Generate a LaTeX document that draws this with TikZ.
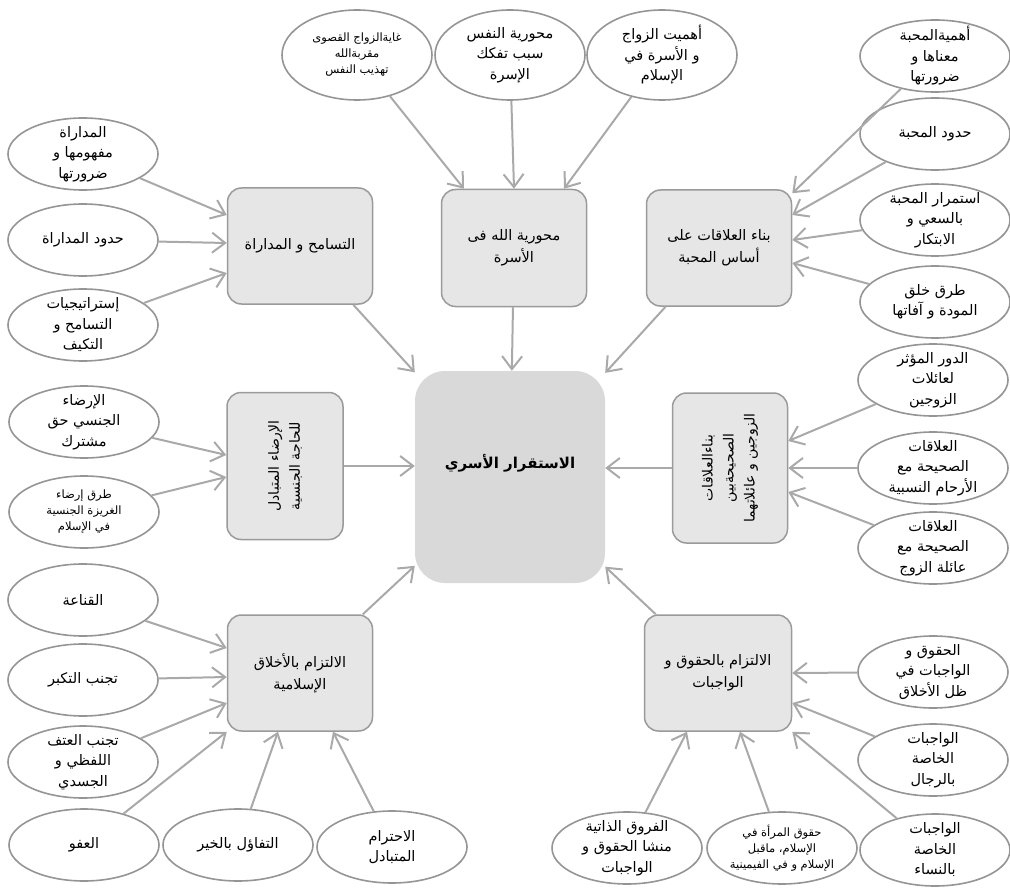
\documentclass[tikz,border=0pt]{standalone}
\usepackage{fontspec}
\newfontfamily\arabicfont[Script=Arabic]{DejaVu Sans}
\TeXXeTstate=1
\usetikzlibrary{shapes.geometric,arrows.meta}
\definecolor{ellc}{HTML}{959595}
\definecolor{boxc}{HTML}{9A9A9A}
\definecolor{boxf}{HTML}{E6E6E6}
\definecolor{cenf}{HTML}{D9D9D9}
\definecolor{arrc}{HTML}{A9A9A9}
\tikzset{
  ell/.style={ellipse, draw=ellc, line width=1.6pt, fill=white, minimum width=150pt, minimum height=72pt, inner sep=0pt},
  tall/.style={minimum height=90pt},
  lbl/.style={font=\arabicfont\fontsize{14.5}{20.5}\selectfont, align=center, inner sep=0pt},
  lbls/.style={font=\arabicfont\fontsize{11.5}{16}\selectfont, align=center, inner sep=0pt},
  box/.style={draw=boxc, line width=1.5pt, fill=boxf, rounded corners=14pt, minimum width=145pt, minimum height=116pt, align=center, inner sep=2pt, font=\arabicfont\fontsize{14.5}{22}\selectfont},
  rot/.style={rotate=90, align=center, inner sep=0pt, font=\arabicfont\fontsize{14}{21}\selectfont},
  cen/.style={fill=cenf, rounded corners=30pt, minimum width=190pt, minimum height=212pt, inner sep=0pt},
  centxt/.style={inner sep=0pt, font=\arabicfont\bfseries\fontsize{15}{18}\selectfont},
  arr/.style={draw=arrc, line width=2pt, -{Straight Barb[length=13pt,width=20pt]}}
}
\begin{document}
\begin{tikzpicture}[x=1pt,y=-1pt]
\useasboundingbox (0,0) rectangle (1010,888);
% central box
\node[cen] (C) at (510,477) {};
\node[centxt] (Ct) at (510,463) {\beginR الاستقرار الأسري\endR};
% category boxes
\node[box] (Btl) at (300,246) {\beginR التسامح و المداراة\endR};
\node[box, minimum height=117pt] (Btm) at (514,248) {\beginR محورية الله فى\endR\\\beginR الأسرة\endR};
\node[box] (Btr) at (719,248) {\beginR بناء العلاقات على\endR\\\beginR أساس المحبة\endR};
\node[box, minimum width=116pt, minimum height=147pt] (Blm) at (285,466) {};
\node[rot] (Blmt) at (Blm) {\beginR الإرضاء المتبادل\endR\\\beginR للحاجة الجنسية\endR};
\node[box, minimum width=115pt, minimum height=150pt] (Brm) at (730,468) {};
\node[rot] (Brmt) at (Brm) {\beginR بناءالعلاقات\endR\\\beginR الصحيحةبين\endR\\\beginR الزوجين و عائلاتهما\endR};
\node[box] (Bbl) at (300,673) {\beginR الالتزام بالأخلاق\endR\\\beginR الإسلامية\endR};
\node[box, minimum width=147pt] (Bbr) at (718,673) {\beginR الالتزام بالحقوق و\endR\\\beginR الواجبات\endR};
% top ellipses
\node[ell, tall, label={[lbls]center:{\beginR غايةالزواج القصوى\endR\\\beginR مقربةالله\endR\\\beginR تهذيب النفس\endR}}] (t1) at (357,55) {};
\node[ell, tall, label={[lbl]center:{\beginR محورية النفس\endR\\\beginR سبب تفكك\endR\\\beginR الإسرة\endR}}] (t2) at (510,55) {};
\node[ell, tall, label={[lbl]center:{\beginR أهميت الزواج\endR\\\beginR و الأسرة في\endR\\\beginR الإسلام\endR}}] (t3) at (662,55) {};
% right column
\node[ell, label={[lbl]center:{\beginR أهميةالمحبة\endR\\\beginR معناها و\endR\\\beginR ضرورتها\endR}}] (r1) at (935,56) {};
\node[ell, label={[lbl]center:{\beginR حدود المحبة\endR}}] (r2) at (935,134) {};
\node[ell, label={[lbl]center:{\beginR استمرار المحبة\endR\\\beginR بالسعي و\endR\\\beginR الابتكار\endR}}] (r3) at (935,220) {};
\node[ell, label={[lbl]center:{\beginR طرق خلق\endR\\\beginR المودة و آفاتها\endR}}] (r4) at (935,302) {};
\node[ell, label={[lbl]center:{\beginR الدور المؤثر\endR\\\beginR لعائلات\endR\\\beginR الزوجين\endR}}] (r5) at (933,380) {};
\node[ell, label={[lbl]center:{\beginR العلاقات\endR\\\beginR الصحيحة مع\endR\\\beginR الأرحام النسبية\endR}}] (r6) at (933,468) {};
\node[ell, label={[lbl]center:{\beginR العلاقات\endR\\\beginR الصحيحة مع\endR\\\beginR عائلة الزوج\endR}}] (r7) at (933,548) {};
\node[ell, label={[lbl]center:{\beginR الحقوق و\endR\\\beginR الواجبات في\endR\\\beginR ظل الأخلاق\endR}}] (r8) at (933,672) {};
\node[ell, label={[lbl]center:{\beginR الواجبات\endR\\\beginR الخاصة\endR\\\beginR بالرجال\endR}}] (r9) at (933,760) {};
\node[ell, label={[lbl]center:{\beginR الواجبات\endR\\\beginR الخاصة\endR\\\beginR بالنساء\endR}}] (r10) at (935,850) {};
% bottom
\node[ell, label={[lbl]center:{\beginR الفروق الذاتية\endR\\\beginR منشا الحقوق و\endR\\\beginR الواجبات\endR}}] (b1) at (627,848) {};
\node[ell, label={[lbls]center:{\beginR حقوق المرأة في\endR\\\beginR الإسلام، ماقبل\endR\\\beginR الإسلام و في الفيمينية\endR}}] (b2) at (782,848) {};
% bottom left
\node[ell, label={[lbl]center:{\beginR العفو\endR}}] (l1) at (84,845) {};
\node[ell, label={[lbl]center:{\beginR التفاؤل بالخير\endR}}] (l2) at (238,845) {};
\node[ell, label={[lbl]center:{\beginR الاحترام\endR\\\beginR المتبادل\endR}}] (l3) at (392,847) {};
\node[ell, label={[lbl]center:{\beginR القناعة\endR}}] (l4) at (83,600) {};
\node[ell, label={[lbl]center:{\beginR تجنب التكبر\endR}}] (l5) at (83,680) {};
\node[ell, label={[lbl]center:{\beginR تجنب العتف\endR\\\beginR اللفظي و\endR\\\beginR الجسدي\endR}}] (l6) at (83,762) {};
% left middle
\node[ell, label={[lbl]center:{\beginR الإرضاء\endR\\\beginR الجنسي حق\endR\\\beginR مشترك\endR}}] (l7) at (84,422) {};
\node[ell, label={[lbls]center:{\beginR طرق إرضاء\endR\\\beginR الغريزة الجنسية\endR\\\beginR في الإسلام\endR}}] (l8) at (84,512) {};
% left top
\node[ell, label={[lbl]center:{\beginR المداراة\endR\\\beginR مفهومها و\endR\\\beginR ضرورتها\endR}}] (l9) at (83,154) {};
\node[ell, label={[lbl]center:{\beginR حدود المداراة\endR}}] (l10) at (83,240) {};
\node[ell, label={[lbl]center:{\beginR إستراتيجيات\endR\\\beginR التسامح و\endR\\\beginR التكيف\endR}}] (l11) at (83,325) {};
% arrows boxes -> center
\draw[arr] (Btm) -- (C);
\draw[arr] (Btr) -- (C);
\draw[arr] (Btl) -- (C);
\draw[arr] (Blm) -- (C.west |- Blm);
\draw[arr] (Brm) -- (C.east |- Brm);
\draw[arr] (Bbl) -- (C);
\draw[arr] (Bbr) -- (C);
% top
\draw[arr] (t1) -- ([xshift=-50pt]Btm.north);
\draw[arr] (t2) -- (Btm.north);
\draw[arr] (t3) -- ([xshift=50pt]Btm.north);
% right top
\draw[arr] (r1) -- ([yshift=-4pt]Btr.north east);
\draw[arr] (r2) -- ([yshift=33pt]Btr.east);
\draw[arr] (r3) -- ([yshift=8pt]Btr.east);
\draw[arr] (r4) -- ([yshift=-15pt]Btr.east);
% left top
\draw[arr] (l9) -- ([yshift=31pt]Btl.west);
\draw[arr] (l10) -- ([yshift=3pt]Btl.west);
\draw[arr] (l11) -- ([yshift=-27pt]Btl.west);
% left middle
\draw[arr] (l7) -- ([yshift=11pt]Blm.west);
\draw[arr] (l8) -- ([yshift=-11pt]Blm.west);
% right middle
\draw[arr] (r5) -- ([yshift=27pt]Brm.east);
\draw[arr] (r6) -- (Brm.east);
\draw[arr] (r7) -- ([yshift=-24pt]Brm.east);
% right lower
\draw[arr] (r8) -- (Bbr.east);
\draw[arr] (r9) -- ([yshift=-30pt]Bbr.east);
\draw[arr] (r10) -- (Bbr.south east);
\draw[arr] (b2) -- ([xshift=22pt]Bbr.south);
\draw[arr] (b1) -- ([xshift=-31pt]Bbr.south);
% bottom left
\draw[arr] (l4) -- ([yshift=25pt]Bbl.west);
\draw[arr] (l5) -- ([yshift=-4pt]Bbl.west);
\draw[arr] (l6) -- ([yshift=-30pt]Bbl.west);
\draw[arr] (l1) -- (Bbl.south west);
\draw[arr] (l2) -- ([xshift=-22pt]Bbl.south);
\draw[arr] (l3) -- ([xshift=33pt]Bbl.south);
\end{tikzpicture}
\end{document}
